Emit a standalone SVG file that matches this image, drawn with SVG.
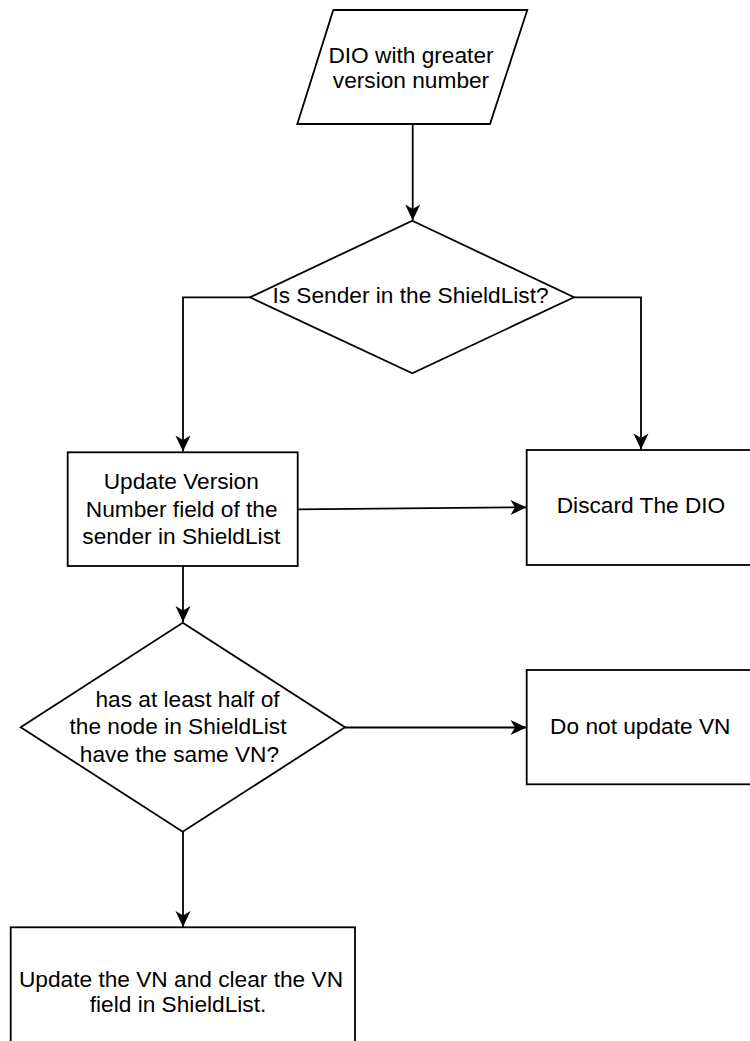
<svg xmlns="http://www.w3.org/2000/svg" width="750" height="1041" viewBox="0 0 750 1041">
  <style>
    .shape { fill: #ffffff; stroke: #000000; stroke-width: 1.8; }
    .edge { fill: none; stroke: #000000; stroke-width: 1.8; marker-end: url(#arrow); }
    .label { font-family: "Liberation Sans", Arial, Helvetica, sans-serif; font-size: 22.7px; fill: #000000; text-anchor: middle; }
  </style>
  <defs>
    <marker id="arrow" markerUnits="userSpaceOnUse" markerWidth="17" markerHeight="16" refX="16" refY="7.5" orient="auto" overflow="visible">
      <path d="M0,0 L16,7.5 L0,15 L4.5,7.5 Z" fill="#000000" stroke="none"/>
    </marker>
  </defs>
  <rect width="750" height="1041" fill="#ffffff"/>

  <!-- connectors -->
  <g id="connectors">
    <path class="edge" d="M412.7,124 L412.7,220.5"/>
    <path class="edge" d="M250,297.3 L183,297.3 L183,451.5"/>
    <path class="edge" d="M574,297.3 L641,297.3 L641,449.5"/>
    <path class="edge" d="M298,509.3 L526.5,507.3"/>
    <path class="edge" d="M183,566 L183,622"/>
    <path class="edge" d="M345,727.5 L526.5,727.5"/>
    <path class="edge" d="M183,832 L183,927"/>
  </g>

  <!-- input: DIO -->
  <g id="node-dio">
    <polygon class="shape" points="333.3,10 527.3,10 490,124 297.3,124"/>
    <text class="label" x="411" y="63.3">DIO with greater</text>
    <text class="label" x="411" y="88.3">version number</text>
  </g>

  <!-- decision: sender in ShieldList -->
  <g id="node-sender-check">
    <polygon class="shape" points="412.3,220.7 574,297.3 412.3,373.3 250,297.3"/>
    <text class="label" x="410.5" y="303.3">Is Sender in the ShieldList?</text>
  </g>

  <!-- process: update version number field -->
  <g id="node-update-field">
    <rect class="shape" x="67.7" y="452.3" width="230" height="113.7"/>
    <text class="label" x="181.3" y="489.3">Update Version</text>
    <text class="label" x="181.7" y="516.5">Number field of the</text>
    <text class="label" x="181.3" y="544">sender in ShieldList</text>
  </g>

  <!-- terminal: discard -->
  <g id="node-discard">
    <rect class="shape" x="526.7" y="450" width="229" height="115"/>
    <text class="label" x="641" y="513">Discard The DIO</text>
  </g>

  <!-- decision: majority VN -->
  <g id="node-majority-check">
    <polygon class="shape" points="182.7,622.7 345,727.3 182.7,831.7 20.7,727.3"/>
    <text class="label" x="187.5" y="707">has at least half of</text>
    <text class="label" x="178" y="733.5">the node in ShieldList</text>
    <text class="label" x="179.5" y="762">have the same VN?</text>
  </g>

  <!-- process: do not update -->
  <g id="node-no-update">
    <rect class="shape" x="526.7" y="670" width="229" height="114.3"/>
    <text class="label" x="640.3" y="734">Do not update VN</text>
  </g>

  <!-- process: update and clear -->
  <g id="node-update-clear">
    <rect class="shape" x="10.7" y="927.3" width="344.3" height="130"/>
    <text class="label" x="181" y="986.7">Update the VN and clear the VN</text>
    <text class="label" x="178" y="1011.7">field in ShieldList.</text>
  </g>
</svg>
